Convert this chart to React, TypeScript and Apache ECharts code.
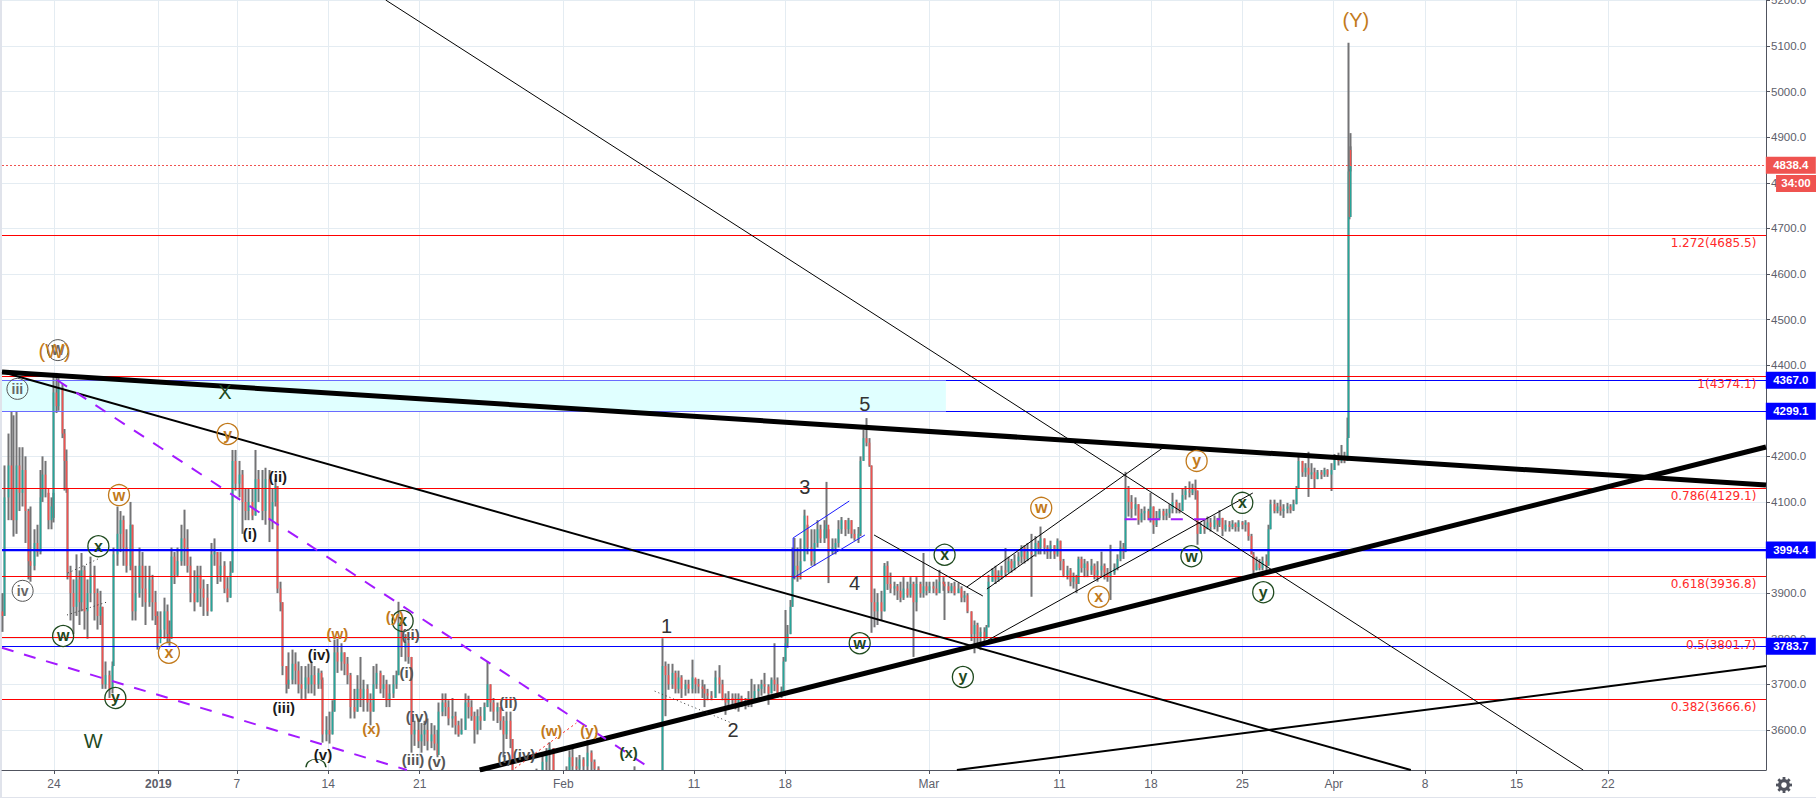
import React, { useEffect, useRef } from "react";
import * as echarts from "echarts";

// Axis: days counted from 24 Dec 2018
const dayMin = -3.98;
const dayMax = 131.1;
const priceMin = 3512;
const priceMax = 5201;
const tickDays = [0, 8, 14, 21, 28, 39, 49, 56, 67, 77, 84, 91, 98, 105, 112, 119];
const tickNames = ["24", "2019", "7", "14", "21", "Feb", "11", "18", "Mar", "11", "18", "25", "Apr", "8", "15", "22"];
const priceTicks = [3600, 3700, 3800, 3900, 4000, 4100, 4200, 4300, 4400, 4500, 4600, 4700, 4800, 4900, 5000, 5100, 5200];

// Bars: [day, close, low, high]
const barsDec = [
  [-4,3860,3810,3905],[-3.9,3850,3815,3900],[-3.75,4110,3850,4180],[-3.5,4180,4060,4250],[-3.25,4130,4060,4298],[-3.1,4060,4024,4290],[-2.85,4180,4030,4298],[-2.6,4120,4080,4220],[-2.4,4170,4090,4220],[-2.15,4080,4010,4200],[-1.95,3970,3930,4085],[-1.75,3960,3925,4090],[-1.5,4010,3950,4040],[-1.25,3990,3980,4050],[-1.05,4110,3985,4170],[-0.85,4160,4100,4200],[-0.6,4130,4110,4190],[-0.4,4060,4040,4120],[-0.2,4090,4040,4110],[-0.05,4065,4055,4120],
  [0,4340,4065,4383],[0.2,4310,4295,4383],[0.4,4350,4300,4375],[0.65,4250,4240,4360],[0.85,4190,4125,4260],[1,4130,4120,4215],[1.07,3945,3930,4130],[1.25,3900,3840,3960],[1.5,3870,3810,3930],[1.75,3930,3850,3985],[2,3880,3830,3950],[2.1,3950,3860,3988],[2.35,3860,3820,3960],[2.6,3900,3800,3930],[2.85,3940,3880,3980],[3.1,3900,3840,3960],[3.35,3850,3820,3910],[3.6,3870,3830,3905],[3.75,3700,3690,3870],[4,3720,3690,3750],[4.25,3690,3670,3730],[4.5,3740,3680,3750],[4.6,3985,3740,4000],[4.85,4030,3960,4090],[5.1,4060,3990,4080],[5.35,4000,3960,4070],[5.6,3960,3945,4040],[5.85,4050,3950,4100],[6.05,3860,3840,4050],[6.3,3900,3840,3960],[6.55,3960,3890,4000],[6.8,3910,3870,3990],[7.05,3880,3830,3960],[7.3,3930,3870,3960],[7.55,3880,3840,3940],[7.8,3850,3830,3905],[7.95,3790,3776,3860],
];
const barsJanA = [
  [8.2,3820,3800,3860],[8.45,3860,3800,3890],[8.7,3810,3790,3875],[8.9,3800,3785,3840],[9,3980,3800,4000],[9.25,3940,3920,3990],[9.5,3970,3935,4000],[9.75,4020,3960,4050],[10,4000,3960,4083],[10.25,3960,3945,4040],[10.5,3900,3880,3980],[10.75,3880,3860,3950],[11,3940,3880,3960],[11.25,3910,3870,3960],[11.5,3890,3850,3930],[11.8,3860,3850,3920],[12.05,3985,3860,4010],[12.3,3990,3960,4020],[12.55,3940,3920,3990],[12.8,3960,3925,3990],[13.05,3910,3900,3970],[13.3,3890,3880,3935],[13.55,3945,3890,3970],[13.7,4190,3945,4214],[13.95,4140,4125,4214],[14.2,4160,4110,4190],[14.45,4100,4030,4170],[14.7,4080,4060,4130],[14.95,4100,4060,4130],[15.2,4070,4060,4130],[15.45,4150,4070,4214],[15.7,4130,4100,4170],[15.95,4080,4060,4170],[16.2,4150,4050,4175],[16.5,4060,4012,4170],[16.75,4100,4040,4130],[17,4135,4090,4150],[17.15,3910,3900,4135],[17.35,3880,3860,3925],[17.55,3740,3720,3880],[17.8,3700,3680,3740],[18,3710,3690,3770],[18.25,3745,3700,3776],[18.5,3730,3700,3770],[18.75,3700,3680,3750],[19,3690,3668,3740],[19.25,3715,3668,3740],[19.5,3700,3680,3745],[19.75,3720,3680,3750],[20,3700,3675,3740],[20.25,3725,3690,3735],[20.5,3710,3690,3730],[20.6,3590,3572,3715],[20.85,3600,3575,3630],[21.1,3590,3570,3640],[21.35,3640,3590,3665],[21.5,3770,3640,3798],[21.75,3750,3725,3800],[22,3770,3730,3790],[22.25,3745,3720,3770],[22.5,3720,3700,3760],[22.75,3650,3625,3725],[23,3640,3625,3690],[23.25,3690,3640,3720],[23.5,3670,3650,3760],[23.75,3690,3640,3710],[24,3660,3640,3700],[24.25,3640,3610,3680],[24.5,3700,3640,3740],[24.75,3725,3690,3745],[25,3690,3680,3730],[25.25,3700,3670,3720],[25.5,3665,3650,3710],[25.75,3680,3650,3700],[26,3700,3670,3720],[26.25,3720,3690,3730],[26.4,3835,3720,3881],[26.65,3780,3760,3840],[26.9,3790,3750,3810],[27.15,3760,3745,3800],
];
const barsJanB = [
  [27.4,3590,3550,3760],[27.65,3600,3565,3620],[27.9,3575,3560,3625],[28.15,3590,3550,3615],[28.4,3600,3565,3620],[28.65,3575,3555,3625],[28.9,3590,3560,3615],[29.15,3570,3555,3610],[29.4,3545,3540,3600],[29.5,3640,3545,3660],[29.75,3660,3630,3680],[30,3650,3630,3680],[30.25,3625,3610,3665],[30.5,3630,3605,3670],[30.75,3610,3590,3640],[31,3590,3585,3620],[31.25,3600,3590,3625],[31.5,3660,3600,3680],[31.75,3650,3625,3675],[32,3630,3620,3665],[32.2,3600,3570,3640],[32.45,3630,3590,3645],[32.7,3620,3600,3650],[32.95,3650,3620,3660],[33.2,3700,3650,3750],[33.45,3660,3640,3700],[33.7,3640,3620,3670],[33.95,3650,3615,3660],[34.2,3620,3600,3650],[34.45,3590,3540,3630],[34.7,3620,3580,3640],[34.95,3580,3560,3640],[35.15,3500,3490,3580],[35.5,3470,3450,3510],[36,3460,3440,3490],[36.5,3480,3450,3500],[37,3500,3470,3515],[37.4,3530,3490,3545],[37.7,3550,3510,3560],[38,3560,3510,3573],[38.3,3480,3460,3560],[38.8,3470,3450,3500],
];
const barsFeb = [
  [39.3,3500,3460,3520],[39.5,3540,3495,3555],[39.75,3520,3500,3560],[40,3515,3500,3540],[40.3,3535,3500,3545],[40.6,3520,3500,3540],[40.9,3550,3510,3578],[41.15,3530,3510,3555],[41.4,3515,3500,3535],[41.7,3490,3480,3520],[42.5,3480,3460,3500],[43.5,3490,3470,3505],[44.5,3495,3470,3520],[45.5,3480,3460,3500],[46.3,3470,3450,3490],[46.6,3740,3470,3801],[46.85,3720,3630,3750],[47.1,3700,3688,3745],[47.35,3725,3690,3745],[47.6,3690,3680,3730],[47.85,3715,3680,3730],[48.1,3690,3670,3720],[48.35,3700,3675,3710],[48.6,3690,3680,3710],[48.9,3715,3680,3754],[49.15,3700,3680,3712],[49.4,3695,3680,3712],[49.65,3690,3670,3710],[49.85,3680,3650,3700],[50.1,3675,3665,3690],[50.4,3670,3665,3685],[50.7,3715,3670,3730],[50.95,3700,3680,3742],[51.2,3670,3665,3710],[51.45,3660,3633,3680],[51.7,3670,3650,3685],[51.95,3665,3650,3680],[52.2,3655,3645,3680],[52.45,3670,3640,3680],[52.7,3660,3650,3675],[52.95,3655,3645,3670],[53.2,3670,3650,3685],[53.45,3665,3650,3712],[53.7,3685,3660,3700],[53.95,3690,3670,3700],[54.2,3700,3675,3710],[54.45,3695,3680,3725],[54.7,3680,3655,3700],[54.95,3710,3680,3715],[55.2,3700,3685,3790],[55.45,3680,3670,3715],[55.7,3685,3670,3695],[55.85,3750,3685,3760],[56,3790,3750,3863],[56.2,3810,3780,3830],[56.4,3870,3810,3885],[56.55,3940,3870,4000],[56.7,3960,3930,4021],[56.95,3950,3925,4000],[57.2,3970,3930,4020],[57.5,4070,3970,4083],[57.75,4000,3985,4050],[58,3970,3960,4040],[58.25,4010,3960,4040],[58.5,4040,4000,4060],[58.75,4020,4010,4050],[59,4040,4010,4060],[59.15,4050,4020,4144],[59.35,3990,3922,4040],[59.6,4000,3985,4020],[59.85,4010,3985,4020],[60.1,4040,4000,4060],[60.35,4060,4030,4067],[60.6,4040,4025,4060],[60.85,4060,4030,4065],[61.1,4030,4020,4060],[61.35,4020,4015,4040],[61.6,4030,4010,4045],[61.75,4190,4025,4200],[62,4240,4190,4258],[62.25,4230,4222,4284],[62.45,4180,4177,4240],[62.6,3880,3813,4180],[62.85,3860,3825,3910],[63.1,3880,3830,3900],[63.35,3860,3840,3905],[63.6,3960,3860,3966],[63.85,3920,3907,3970],[64.1,3910,3900,3945],[64.35,3915,3895,3925],[64.6,3905,3885,3920],[64.85,3890,3880,3925],[65.1,3910,3885,3935],[65.35,3895,3890,3925],[65.6,3920,3890,3935],[65.85,3880,3760,3925],[66.1,3920,3860,3935],[66.35,3900,3890,3925],[66.6,3915,3890,3988],[66.85,3905,3895,3925],
];
const barsMarA = [
  [67.1,3915,3900,3925],[67.35,3910,3900,3925],[67.6,3900,3895,3930],[67.85,3925,3900,3951],[68.1,3920,3905,3935],[68.2,3915,3841,3925],[68.5,3905,3900,3925],[68.75,3915,3900,3922],[69,3900,3895,3925],[69.25,3910,3900,3922],[69.5,3890,3880,3915],[69.75,3895,3880,3905],[70,3860,3856,3900],[70.25,3810,3795,3860],[70.5,3830,3768,3840],[70.75,3805,3790,3835],[71,3815,3775,3825],[71.25,3800,3790,3825],[71.45,3825,3800,3830],[71.6,3925,3825,3940],[71.85,3950,3925,3955],[72.1,3930,3920,3960],[72.35,3940,3925,3950],[72.6,3950,3930,3960],[72.85,3945,3935,3999],[73.1,3970,3945,3980],[73.35,3955,3945,3975],[73.6,3970,3950,3985],[73.85,3980,3960,3990],[74.1,4000,3965,4005],[74.35,3975,3965,4005],[74.6,3990,3970,4010],[74.9,3985,3892,4030],[75.15,4010,3980,4025],[75.4,4000,3985,4015],[75.6,4020,3985,4046],[75.85,4000,3985,4020],[76.1,3990,3975,4005],[76.35,4005,3975,4015],[76.6,3985,3975,4005],[76.85,4015,3980,4020],[77.1,3970,3950,4015],[77.35,3940,3935,3975],[77.6,3950,3930,3960],[77.85,3925,3915,3955],[78.1,3935,3910,3945],[78.3,3920,3900,3940],[78.45,3975,3920,3980],[78.7,3955,3945,3980],[78.95,3965,3935,3975],[79.2,3950,3935,3970],[79.45,3960,3940,3975],[79.7,3940,3930,3965],[79.95,3950,3925,3970],[80.2,3960,3935,3991],[80.45,3945,3930,3965],[80.7,3935,3925,3955],[80.95,3945,3885,4006],[81.2,3955,3940,3965],[81.45,3975,3950,3985],[81.7,4000,3970,4015],[81.95,3990,3975,4010],
];
const barsMarB = [
  [82.05,4130,3990,4166],[82.3,4100,4068,4135],[82.55,4085,4065,4115],[82.8,4095,4070,4110],[83.05,4060,4050,4095],[83.3,4075,4055,4085],[83.55,4080,4060,4090],[83.8,4065,4060,4085],[84,4090,4055,4120],[84.2,4050,4030,4090],[84.45,4065,4045,4080],[84.7,4080,4060,4085],[84.95,4070,4060,4085],[85.2,4075,4060,4085],[85.45,4085,4065,4095],[85.7,4100,4075,4120],[85.95,4085,4075,4105],[86.2,4080,4075,4098],[86.45,4115,4080,4130],[86.7,4125,4105,4135],[86.95,4120,4110,4145],[87.2,4130,4115,4140],[87.45,4125,4105,4149],[87.6,4030,4006,4125],[87.85,4045,4030,4055],[88.1,4040,4030,4060],[88.35,4055,4040,4068],[88.6,4045,4035,4065],[88.85,4060,4040,4070],[89.1,4050,4035,4065],[89.3,4065,4045,4082],[89.5,4040,4025,4065],[89.75,4050,4035,4060],[90,4045,4035,4058],[90.25,4052,4040,4060],[90.5,4045,4035,4055],[90.75,4055,4035,4060],[91,4050,4040,4058],[91.25,4055,4035,4060],[91.5,4025,4015,4055],[91.7,3985,3985,4030],[91.85,3950,3940,3990],[92.1,3965,3950,3980],[92.35,3955,3950,3975],[92.6,3970,3950,3980],[92.85,3960,3950,3985],[93,4040,3960,4050],[93.2,4095,4040,4105],[93.45,4080,4075,4105],[93.7,4090,4075,4098],[93.95,4080,4070,4105],[94.2,4085,4065,4095],[94.45,4090,4075,4098],[94.7,4082,4075,4095],[94.95,4095,4080,4105],[95.2,4130,4095,4135],[95.35,4190,4130,4200],[95.6,4165,4155,4190],[95.85,4175,4155,4185],[96.05,4160,4111,4210],[96.3,4165,4150,4185],[96.55,4150,4130,4175],[96.8,4165,4150,4170],[97.05,4160,4150,4170],[97.3,4170,4155,4175],[97.55,4160,4155,4172],[97.85,4170,4124,4185],
];
const barsApr = [
  [98.1,4195,4170,4205],[98.35,4190,4180,4208],[98.6,4200,4185,4225],[98.85,4190,4185,4210],[99.05,4240,4190,4285],[99.15,4825,4240,5107],[99.22,4725,4720,4830],[99.27,4872,4725,4909],[99.33,4838.4,4825,4880],
];
const allBars = [...barsDec, ...barsJanA, ...barsJanB, ...barsFeb, ...barsMarA, ...barsMarB, ...barsApr];

// Horizontal levels
const fibLevels = [4685.5, 4374.1, 4129.1, 3936.8, 3801.7, 3666.6];
const fibNames = ["1.272(4685.5)", "1(4374.1)", "0.786(4129.1)", "0.618(3936.8)", "0.5(3801.7)", "0.382(3666.6)"];
const blueLevels = [4367.0, 4299.1, 3994.4, 3783.7];
const lastPrice = 4838.4;
const boxEndDay = 68.3;

// Trend lines: [day1, price1, day2, price2]
const heavyLines = [[-3.98,4385,131.1,4137],[32.6,3512,131.1,4220.5]];
const mediumLines = [[-3.98,4385,103.9,3512],[69.14,3512,131.1,3740]];
const thinLines = [[25.4,5201,117.1,3512],[69.9,3913.4,84.9,4218.3],[71.13,3790.6,91.8,4119.6],[71.44,3909,75.1,3983.6],[62.8,4027.5,71.13,3893.7]];
const blueChannel = [[56.6,4021,60.9,4102],[56.6,3933,62.1,4027.5],[56.6,4021,56.6,3933]];
const purpleDashes = [[0.23,4367.5,45.87,3512],[-3.98,3780,27.03,3512],[82,4062,89.3,4062]];
const dottedBlack = [[1.07,3944,3.52,3977],[1,3852,4.06,3880.5],[46,3685,51.9,3615]];
const dottedRed = [[35.3,3516,40,3615]];

// Wave labels: [text, day, price]
const ringOrange = [["w",4.98,4115],["y",13.3,4249],["x",8.8,3769],["w",75.6,4087],["x",80,3892],["y",87.5,4190]];
const ringGreen = [["w",0.7,3806],["x",3.4,4003],["y",4.7,3670],["x",26.7,3839],["w",61.7,3790],["y",69.6,3716],["x",68.2,3984],["w",87.1,3981],["x",91,4098],["y",92.6,3902]];
const ringGrey = [["iii",-2.8,4348],["iv",-2.4,3905],["W",0.3,4433]];
const romanBlack = [["(i)",15,4030],["(ii)",17.15,4155],["(iii)",17.6,3650],["(iv)",20.3,3766],["(v)",20.6,3547]];
const romanGrey = [["(i)",27,3725],["(ii)",27.3,3810],["(iv)",27.8,3630],["(iii)",27.5,3536],["(v)",29.3,3530],["(ii)",34.8,3659],["(i)",34.5,3540],["(iv)",36,3547]];
const boldOrange = [["(w)",21.7,3812],["(x)",24.3,3602],["(y)",26.1,3848],["(w)",38.1,3598],["(y)",41,3598]];
const boldGreen = [["(x)",44,3551]];
const bigOrange = [["(W)",0.05,4431],["(Y)",99.7,5157]];
const bigGreen = [["W",3,3576],["X",13.1,4341]];
const numberLabels = [["1",46.9,3828],["2",52,3600],["3",57.5,4133],["4",61.3,3922],["5",62.1,4315]];

const TEAL = "#26a69a";
const RED = "#ef5350";
const WICK = "#737375";
const ORANGE = "#c27a1c";
const GREEN = "#1f4a1f";
const AXIS = "#50535e";
const ARIAL = "Liberation Sans";
const PLOT_HEIGHT = 770;

// Puts a thin horizontal level on a whole pixel row so that it stays crisp
function crisp(v: number) {
  const k = PLOT_HEIGHT / (priceMax - priceMin);
  const row = Math.floor((priceMax - v) * k) + 0.5;
  return priceMax - row / k;
}
const floorPrice = (v: number) => Math.max(v, priceMin);

function segments(list: number[][], style: any, z: number) {
  return list.map((s) => ({
    type: "line", silent: true, symbol: "none", z, lineStyle: style,
    data: [[s[0], s[1]], [s[2], s[3]]],
  }));
}
function level(v: number, from: number, to: number) {
  const y = crisp(v);
  return [from, y, to, y];
}
function ringSeries(list: any[], ring: string, text: string, width: number, size: number) {
  return {
    type: "scatter", silent: true, clip: false, z: 12, symbol: "circle", symbolSize: 21,
    itemStyle: { color: "rgba(0,0,0,0)", opacity: 1, borderColor: ring, borderWidth: width },
    label: { show: true, position: "inside", formatter: (p: any) => p.data[2], color: text, fontFamily: ARIAL, fontWeight: "bold", fontSize: size },
    data: list.map((r) => [r[1], r[2], r[0]]),
  };
}
function textSeries(list: any[], color: string, size: number, weight: string) {
  return {
    type: "scatter", silent: true, clip: false, z: 13, symbol: "circle", symbolSize: 1,
    itemStyle: { color: "rgba(0,0,0,0)", opacity: 1 },
    label: { show: true, position: "inside", formatter: (p: any) => p.data[2], color, fontFamily: ARIAL, fontWeight: weight, fontSize: size },
    data: list.map((r) => [r[1], r[2], r[0]]),
  };
}
function tagSeries(day: number, price: number, text: string, color: string, w: number) {
  return {
    type: "scatter", silent: true, clip: false, z: 20, symbol: "rect", symbolSize: [w, 17],
    itemStyle: { color, opacity: 1 },
    label: { show: true, position: "inside", formatter: text, color: "#fff", fontFamily: ARIAL, fontWeight: "bold", fontSize: 11.5 },
    data: [[day, price]],
  };
}

function buildOption() {
  const opens = allBars.map((b, i) => (i === 0 ? b[1] : allBars[i - 1][1]));
  const visible = allBars.map((b, i) => ({ b, o: opens[i] })).filter((r) => Math.max(r.b[3], r.o) > priceMin);
  const wickData = visible.map(({ b }) => {
    const c = floorPrice(b[1]);
    return [b[0], c, c, floorPrice(b[2]), floorPrice(b[3])];
  });
  const bodyData = visible.map(({ b, o }) => {
    const oc = floorPrice(o);
    const c = floorPrice(b[1]);
    return [b[0], oc, c, Math.min(oc, c), Math.max(oc, c)];
  });
  const series: any[] = [
    {
      type: "line", silent: true, symbol: "none", z: 1, lineStyle: { width: 0 }, data: [],
      markArea: { silent: true, itemStyle: { color: "#e0ffff", opacity: 1 }, data: [[{ coord: [dayMin, blueLevels[0]] }, { coord: [boxEndDay, blueLevels[1]] }]] },
    },
    {
      type: "candlestick", silent: true, z: 3, barWidth: 1, encode: { x: 0, y: [1, 2, 3, 4] },
      itemStyle: { color: WICK, color0: WICK, borderColor: WICK, borderColor0: WICK, borderWidth: 2 },
      data: wickData,
    },
    {
      type: "candlestick", silent: true, z: 4, barWidth: 1, encode: { x: 0, y: [1, 2, 3, 4] },
      itemStyle: { color: TEAL, color0: RED, borderColor: TEAL, borderColor0: RED, borderWidth: 1.6 },
      data: bodyData,
    },
    ...segments(fibLevels.map((v) => level(v, dayMin, dayMax)), { color: "#ff0000", width: 1 }, 6),
    ...segments([level(blueLevels[0], dayMin, boxEndDay), level(blueLevels[1], dayMin, boxEndDay)], { color: "#6a6aff", width: 1 }, 6),
    ...segments([level(blueLevels[0], boxEndDay, dayMax), level(blueLevels[1], boxEndDay, dayMax)], { color: "#0000ff", width: 1 }, 6),
    ...segments([[dayMin, blueLevels[2], dayMax, blueLevels[2]]], { color: "#0000ff", width: 2.4 }, 6),
    ...segments([level(blueLevels[3], dayMin, dayMax)], { color: "#0000ff", width: 1 }, 6),
    ...segments([level(lastPrice, dayMin, dayMax)], { color: RED, width: 1, type: [2, 2] }, 6),
    ...segments(heavyLines, { color: "#000", width: 5 }, 8),
    ...segments(mediumLines, { color: "#000", width: 2 }, 8),
    ...segments(thinLines, { color: "#000", width: 1 }, 8),
    ...segments(blueChannel, { color: "#1a1aff", width: 1 }, 8),
    ...segments(purpleDashes, { color: "#a31aff", width: 2, type: [12, 11] }, 8),
    ...segments(dottedBlack, { color: "#333", width: 1, type: [1, 3] }, 8),
    ...segments(dottedRed, { color: "#ff2020", width: 1, type: [2, 3] }, 8),
    ringSeries(ringOrange, ORANGE, ORANGE, 1.3, 16),
    ringSeries(ringGreen, GREEN, GREEN, 1.3, 16),
    ringSeries(ringGrey, "#555", "#666", 1, 14),
    textSeries(romanBlack, "#1a1a1a", 15, "bold"),
    textSeries(romanGrey, "#555", 15, "bold"),
    textSeries(boldOrange, ORANGE, 15, "bold"),
    textSeries(boldGreen, GREEN, 15, "bold"),
    textSeries(bigOrange, ORANGE, 20, "normal"),
    textSeries(bigGreen, GREEN, 20, "normal"),
    textSeries(numberLabels, "#333", 20, "normal"),
    {
      type: "scatter", silent: true, clip: false, z: 14, symbol: "circle", symbolSize: 1,
      itemStyle: { color: "rgba(0,0,0,0)", opacity: 1 },
      label: { show: true, position: "left", distance: 0, formatter: (p: any) => p.data[2], color: "#ff2a2a", fontFamily: "DejaVu Sans", fontSize: 12 },
      data: fibLevels.map((v, i) => [130.4, v - 16.5, fibNames[i]]),
    },
    {
      type: "scatter", silent: true, clip: false, z: 12, symbol: "path://M0,10 A10,10 0 0 1 20,10", symbolSize: [20, 8],
      itemStyle: { color: "rgba(0,0,0,0)", opacity: 1, borderColor: GREEN, borderWidth: 1 },
      data: [[20.06, 3527]],
    },
    tagSeries(133.0, lastPrice, "4838.4", RED, 50),
    tagSeries(133.4, 4798.5, "34:00", RED, 40),
    ...blueLevels.map((v) => tagSeries(133.0, v, v.toFixed(1), "#0000ff", 50)),
  ];
  const gridColor = "#e4ecf2";
  return {
    animation: false,
    backgroundColor: "#ffffff",
    grid: { left: 2, right: 50, top: 0, bottom: 30, containLabel: false, outerBoundsMode: "none" },
    xAxis: {
      type: "value", min: dayMin, max: dayMax, scale: true,
      axisLine: { show: true, onZero: false, lineStyle: { color: AXIS } },
      axisTick: { show: true, length: 4, lineStyle: { color: AXIS }, customValues: tickDays },
      splitLine: { show: true, lineStyle: { color: gridColor, width: 1 } },
      axisLabel: {
        customValues: tickDays, margin: 8, color: "#5d606b", fontFamily: ARIAL, fontSize: 12,
        formatter: (v: number) => {
          const name = tickNames[tickDays.indexOf(v)] ?? "";
          return name === "2019" ? "{b|2019}" : name;
        },
        rich: { b: { fontWeight: "bold", color: "#5d606b", fontFamily: ARIAL, fontSize: 12 } },
      },
    },
    yAxis: {
      type: "value", position: "right", min: priceMin, max: priceMax, scale: true,
      axisLine: { show: true, onZero: false, lineStyle: { color: AXIS } },
      axisTick: { show: true, length: 4, lineStyle: { color: AXIS }, customValues: priceTicks },
      splitLine: { show: true, lineStyle: { color: gridColor, width: 1 } },
      axisLabel: {
        customValues: priceTicks, margin: 5, color: "#5d606b", fontFamily: ARIAL, fontSize: 11.5,
        formatter: (v: number) => v.toFixed(1),
      },
    },
    series,
    graphic: [
      { type: "rect", shape: { x: 0, y: 0, width: 2, height: 797 }, style: { fill: "#e0e3eb" }, silent: true },
      { type: "rect", shape: { x: 0, y: 797, width: 1816, height: 1 }, style: { fill: "#e0e3eb" }, silent: true },
      {
        type: "group", x: 1784, y: 785, silent: true,
        children: [
          { type: "ring", shape: { cx: 0, cy: 0, r: 6, r0: 2.8 }, style: { fill: "#50535e" } },
          ...[0, 45, 90, 135, 180, 225, 270, 315].map((a) => ({
            type: "rect", rotation: (a * Math.PI) / 180, shape: { x: -1.4, y: -8, width: 2.8, height: 3 }, style: { fill: "#50535e" },
          })),
        ],
      },
    ],
  };
}

export default function App() {
  const ref = useRef<HTMLDivElement>(null);
  useEffect(() => {
    const chart = echarts.init(ref.current!, undefined, { renderer: "svg" });
    chart.setOption(buildOption() as any);
    return () => chart.dispose();
  }, []);
  return <div ref={ref} style={{ position: "fixed", left: 0, top: 0, width: 1816, height: 800 }} />;
}
